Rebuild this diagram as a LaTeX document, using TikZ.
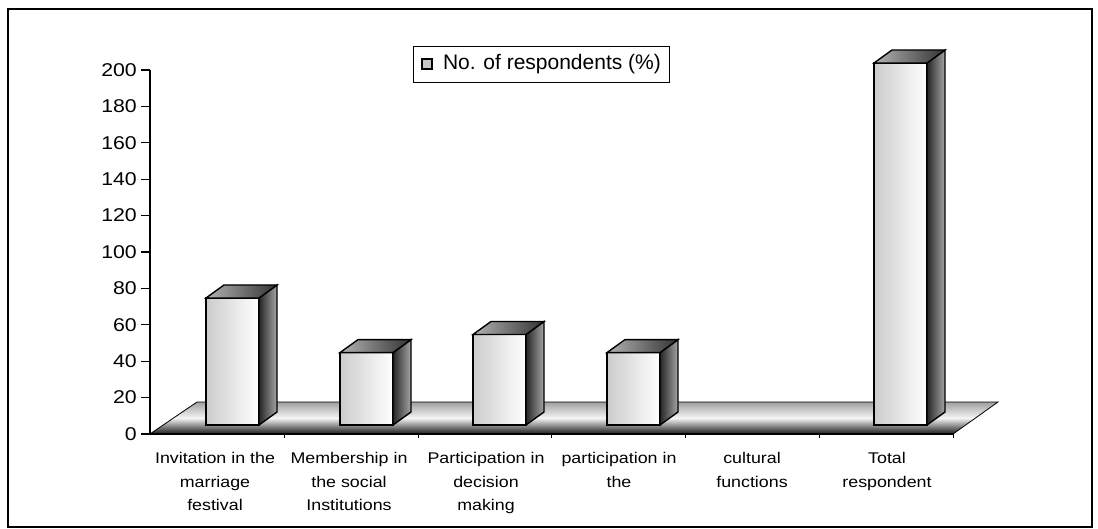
\documentclass[tikz,border=0pt]{standalone}
\usepackage{fontspec}
\setmainfont{Liberation Sans}
\newfontfamily\stretchfont[FakeStretch=1.15]{Liberation Sans}
\usetikzlibrary{positioning}
\tikzset{
  front face/.style={
    draw=black,
    line width=1.4pt,
    left color=gray!40,
    right color=white,
  },
  side face/.style={
    draw=black,
    line width=1.4pt,
    left color=black!85,
    right color=gray!70,
  },
  top face/.style={
    draw=black,
    line width=1.4pt,
    left color=gray!60,
    right color=black!80,
  },
  floor/.style={
    draw=black,
    line width=0.8pt,
    top color=gray!75,
    bottom color=black!90,
    middle color=gray!8,
  },
  axis line/.style={
    draw=black,
    line width=1.1pt,
  },
  tick label/.style={
    anchor=east,
    inner sep=0pt,
    font=\stretchfont\fontsize{18.5}{18.5}\selectfont,
  },
  category/.style={
    anchor=north,
    align=center,
    inner sep=0pt,
    font=\stretchfont\fontsize{15.5}{23.5}\selectfont,
  },
  legend box/.style={
    draw=black,
    line width=1pt,
    minimum width=256pt,
    minimum height=36pt,
    anchor=north west,
    inner sep=0pt,
  },
  legend icon/.style={
    draw=black,
    fill=gray!45,
    line width=1.6pt,
    minimum size=10pt,
    inner sep=0pt,
  },
  legend text/.style={
    anchor=west,
    inner sep=0pt,
    font=\fontsize{21}{21}\selectfont,
  }
}
\newcommand\drawcolumn[2]{% #1 = left edge, #2 = top edge
  \path[front face] (#1,425) rectangle (#1+53,#2);
  \path[side face] (#1+53,425) -- (#1+71,412) -- (#1+71,#2-13) -- (#1+53,#2) -- cycle;
  \path[top face] (#1,#2) -- (#1+18,#2-13) -- (#1+71,#2-13) -- (#1+53,#2) -- cycle;
}

\begin{document}
\begin{tikzpicture}[x=1pt,y=-1pt]
        \useasboundingbox (0,0) rectangle (1098,529);
        \draw[line width=1.8pt] (8,9) rectangle (1092,527);

        % floor and axes
        \path[floor] (150,434) -- (197,402) -- (998,402) -- (953,434) -- cycle;
        \draw[line width=2pt] (150,434) -- (953,434);
        \draw[axis line] (150,70) -- (150,434);
        \draw[axis line] (141,70) -- (150,70) (141,106.4) -- (150,106.4)
          (141,142.8) -- (150,142.8) (141,179.2) -- (150,179.2)
          (141,215.6) -- (150,215.6) (141,252) -- (150,252)
          (141,288.4) -- (150,288.4) (141,324.8) -- (150,324.8)
          (141,361.2) -- (150,361.2) (141,397.6) -- (150,397.6)
          (141,434) -- (150,434);
        \draw[line width=0.6pt] (284,434) -- (284,438) (418,434) -- (418,438)
          (551,434) -- (551,438) (685,434) -- (685,438) (819,434) -- (819,438)
          (953,434) -- (953,438);

        \node [tick label] (t0) at (137,434) {0};
        \node [tick label] (t20) at (137,397.6) {20};
        \node [tick label] (t40) at (137,361.2) {40};
        \node [tick label] (t60) at (137,324.8) {60};
        \node [tick label] (t80) at (137,288.4) {80};
        \node [tick label] (t100) at (137,252) {100};
        \node [tick label] (t120) at (137,215.6) {120};
        \node [tick label] (t140) at (137,179.2) {140};
        \node [tick label] (t160) at (137,142.8) {160};
        \node [tick label] (t180) at (137,106.4) {180};
        \node [tick label] (t200) at (137,70) {200};

        % columns
        \drawcolumn{206}{298}
        \drawcolumn{340}{352.6}
        \drawcolumn{473}{334.5}
        \drawcolumn{607}{352.6}
        \drawcolumn{874}{63}

        \node [category] (c1) at (215,452.5) {Invitation in the\\marriage\\festival};
        \node [category] (c2) at (349,452.5) {Membership in\\the social\\Institutions};
        \node [category] (c3) at (486,452.5) {Participation in\\decision\\making};
        \node [category] (c4) at (619,452.5) {participation in\\the};
        \node [category] (c5) at (752,452.5) {cultural\\functions};
        \node [category] (c6) at (887,452.5) {Total\\respondent};

        % legend
        \node [legend box] (legend) at (413,46) {};
        \node [legend icon] (icon) at (427,64) {};
        \node [legend text, right=10pt of icon] (legendtext) {No. of respondents (\%)};
      \end{tikzpicture}
\end{document}
